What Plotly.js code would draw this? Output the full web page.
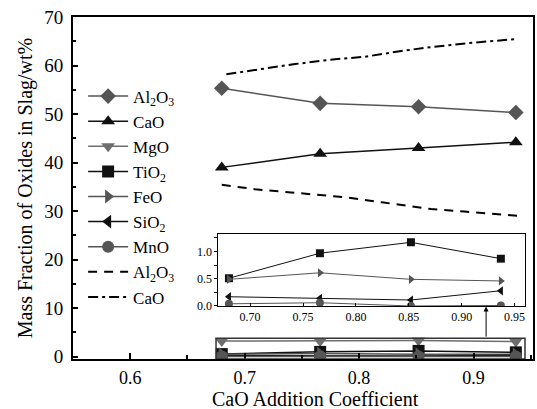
<!DOCTYPE html>
<html><head><meta charset="utf-8">
<script src="https://cdn.plot.ly/plotly-3.0.1.min.js"></script>
<style>body{margin:0;background:#fff}</style></head>
<body><div id="chart" style="width:537px;height:409px"></div>
<script>
// Measured points (CaO addition coefficient)
const coef = [0.680, 0.766, 0.852, 0.937];
const al2o3 = [55.3, 52.2, 51.5, 50.3];
const cao = [39.0, 41.8, 43.0, 44.2];
const mgo = [3.2, 3.2, 3.3, 3.1];
const tio2 = [0.51, 0.97, 1.17, 0.87];
const feo = [0.49, 0.61, 0.49, 0.46];
const sio2 = [0.17, 0.14, 0.11, 0.28];
const mno = [0.04, 0.06, 0.00, 0.01];
// Calculated lines
const calcCoefAl = [0.680, 0.709, 0.747, 0.790, 0.820, 0.843, 0.863, 0.892, 0.916, 0.939];
const calcAl2o3 = [35.4, 34.5, 33.7, 32.8, 31.8, 31.0, 30.4, 29.9, 29.5, 29.0];
const calcCoefCa = [0.684, 0.710, 0.744, 0.779, 0.805, 0.837, 0.863, 0.895, 0.939];
const calcCaO = [58.2, 59.1, 60.3, 61.3, 61.8, 63.0, 63.8, 64.6, 65.5];
const names = ["Al<sub>2</sub>O<sub>3</sub>", "CaO", "MgO", "TiO<sub>2</sub>", "FeO", "SiO<sub>2</sub>", "MnO"];
const xTitle = "CaO Addition Coefficient";
const yTitle = "Mass Fraction of Oxides in Slag/wt%";

const FONT = "Liberation Serif";
const G = "#555555", G2 = "#6e6e6e", K = "#111111";

function pts(name, y, sym, col, sz, lw, xa, ya, leg) {
  return {x: coef, y: y, name: name, type: "scatter", mode: "lines+markers",
    xaxis: xa, yaxis: ya, showlegend: leg,
    line: {color: col, width: lw}, marker: {symbol: sym, color: col, size: sz}};
}
const small = [
  [tio2, "square", K, 3], [feo, "triangle-right", G, 4], [sio2, "triangle-left", K, 5], [mno, "circle", G, 6]
];
const traces = [
  pts(names[0], al2o3, "diamond", G, 12, 1.5, "x", "y", true),
  pts(names[1], cao, "triangle-up", K, 12, 1.5, "x", "y", true),
  pts(names[2], mgo, "triangle-down", G2, 12, 1.5, "x", "y", true),
];
small.forEach(s => traces.push(pts(names[s[3]], s[0], s[1], s[2], 12, 1.5, "x", "y", true)));
traces.push({x: calcCoefAl, y: calcAl2o3, name: names[0], type: "scatter", mode: "lines",
  line: {color: "#000", width: 2, dash: "9px,7px"}});
traces.push({x: calcCoefCa, y: calcCaO, name: names[1], type: "scatter", mode: "lines",
  line: {color: "#000", width: 2, dash: "10px,4px,3px,4px"}});
small.forEach(s => traces.push(pts(names[s[3]], s[0], s[1], s[2], 8, 1, "x2", "y2", false)));

const layout = {
  width: 537, height: 409,
  margin: {l: 73, r: 4, t: 17, b: 50},
  paper_bgcolor: "#fff", plot_bgcolor: "rgba(0,0,0,0)",
  font: {family: FONT, color: "#000"},
  showlegend: true,
  legend: {x: 0.022, y: 0.82, xanchor: "left", yanchor: "top", bgcolor: "rgba(0,0,0,0)",
    font: {family: FONT, size: 17}, itemwidth: 40, tracegroupgap: 0},
  xaxis: {range: [0.55, 0.952], tickmode: "linear", tick0: 0.6, dtick: 0.1,
    ticks: "inside", ticklen: 6, tickwidth: 2, tickcolor: "#000",
    minor: {ticks: "inside", ticklen: 4, tickwidth: 2, dtick: 0.05, tick0: 0.55, tickcolor: "#000"},
    showline: true, mirror: true, linewidth: 2, linecolor: "#000", automargin: false,
    showgrid: false, zeroline: false, tickfont: {family: FONT, size: 18}, ticklabelstandoff: 1},
  yaxis: {range: [-0.5, 70], tickmode: "linear", tick0: 0, dtick: 10,
    ticks: "inside", ticklen: 5, tickwidth: 2, tickcolor: "#000", automargin: false,
    minor: {ticks: "inside", ticklen: 3, tickwidth: 2, dtick: 5, tick0: 0, tickcolor: "#000"},
    showline: true, mirror: true, linewidth: 2, linecolor: "#000",
    showgrid: false, zeroline: false, tickfont: {family: FONT, size: 19}, ticklabelstandoff: 4,
    title: {text: yTitle, font: {family: FONT, size: 20}, standoff: 6}},
  xaxis2: {domain: [0.316, 0.983], anchor: "y2", range: [0.67, 0.96], tickmode: "linear",
    tick0: 0.7, dtick: 0.05, tickformat: ".2f", ticks: "inside", ticklen: 3, tickcolor: "#000",
    showline: true, mirror: true, linewidth: 1, linecolor: "#000", showgrid: false, zeroline: false,
    tickfont: {family: FONT, size: 12}},
  yaxis2: {domain: [0.155, 0.365], anchor: "x2", range: [0, 1.32], tickmode: "linear",
    tick0: 0, dtick: 0.5, tickformat: ".1f", ticks: "outside", ticklen: 3, tickcolor: "#000",
    minor: {ticks: "outside", ticklen: 3, dtick: 0.25, tick0: 0, tickcolor: "#000"},
    showline: true, mirror: true, linewidth: 1, linecolor: "#000", showgrid: false, zeroline: false,
    tickfont: {family: FONT, size: 12}},
  shapes: [{type: "rect", xref: "x", yref: "y", x0: 0.675, x1: 0.945, y0: -0.5, y1: 3.8,
    line: {color: "#333", width: 1.5}}],
  annotations: [
    {xref: "x", yref: "y", axref: "x", ayref: "y", x: 0.911, y: 10.3, ax: 0.911, ay: 3.8,
      text: "", showarrow: true, arrowhead: 2, arrowsize: 1, arrowwidth: 1, arrowcolor: "#000"},
    {xref: "paper", yref: "paper", x: 0.528, y: -0.116, xanchor: "center", yanchor: "middle",
      text: xTitle, showarrow: false, font: {family: FONT, size: 20}, borderpad: 0}
  ]
};
Plotly.newPlot("chart", traces, layout, {staticPlot: true, displayModeBar: false});
</script>
</body></html>
